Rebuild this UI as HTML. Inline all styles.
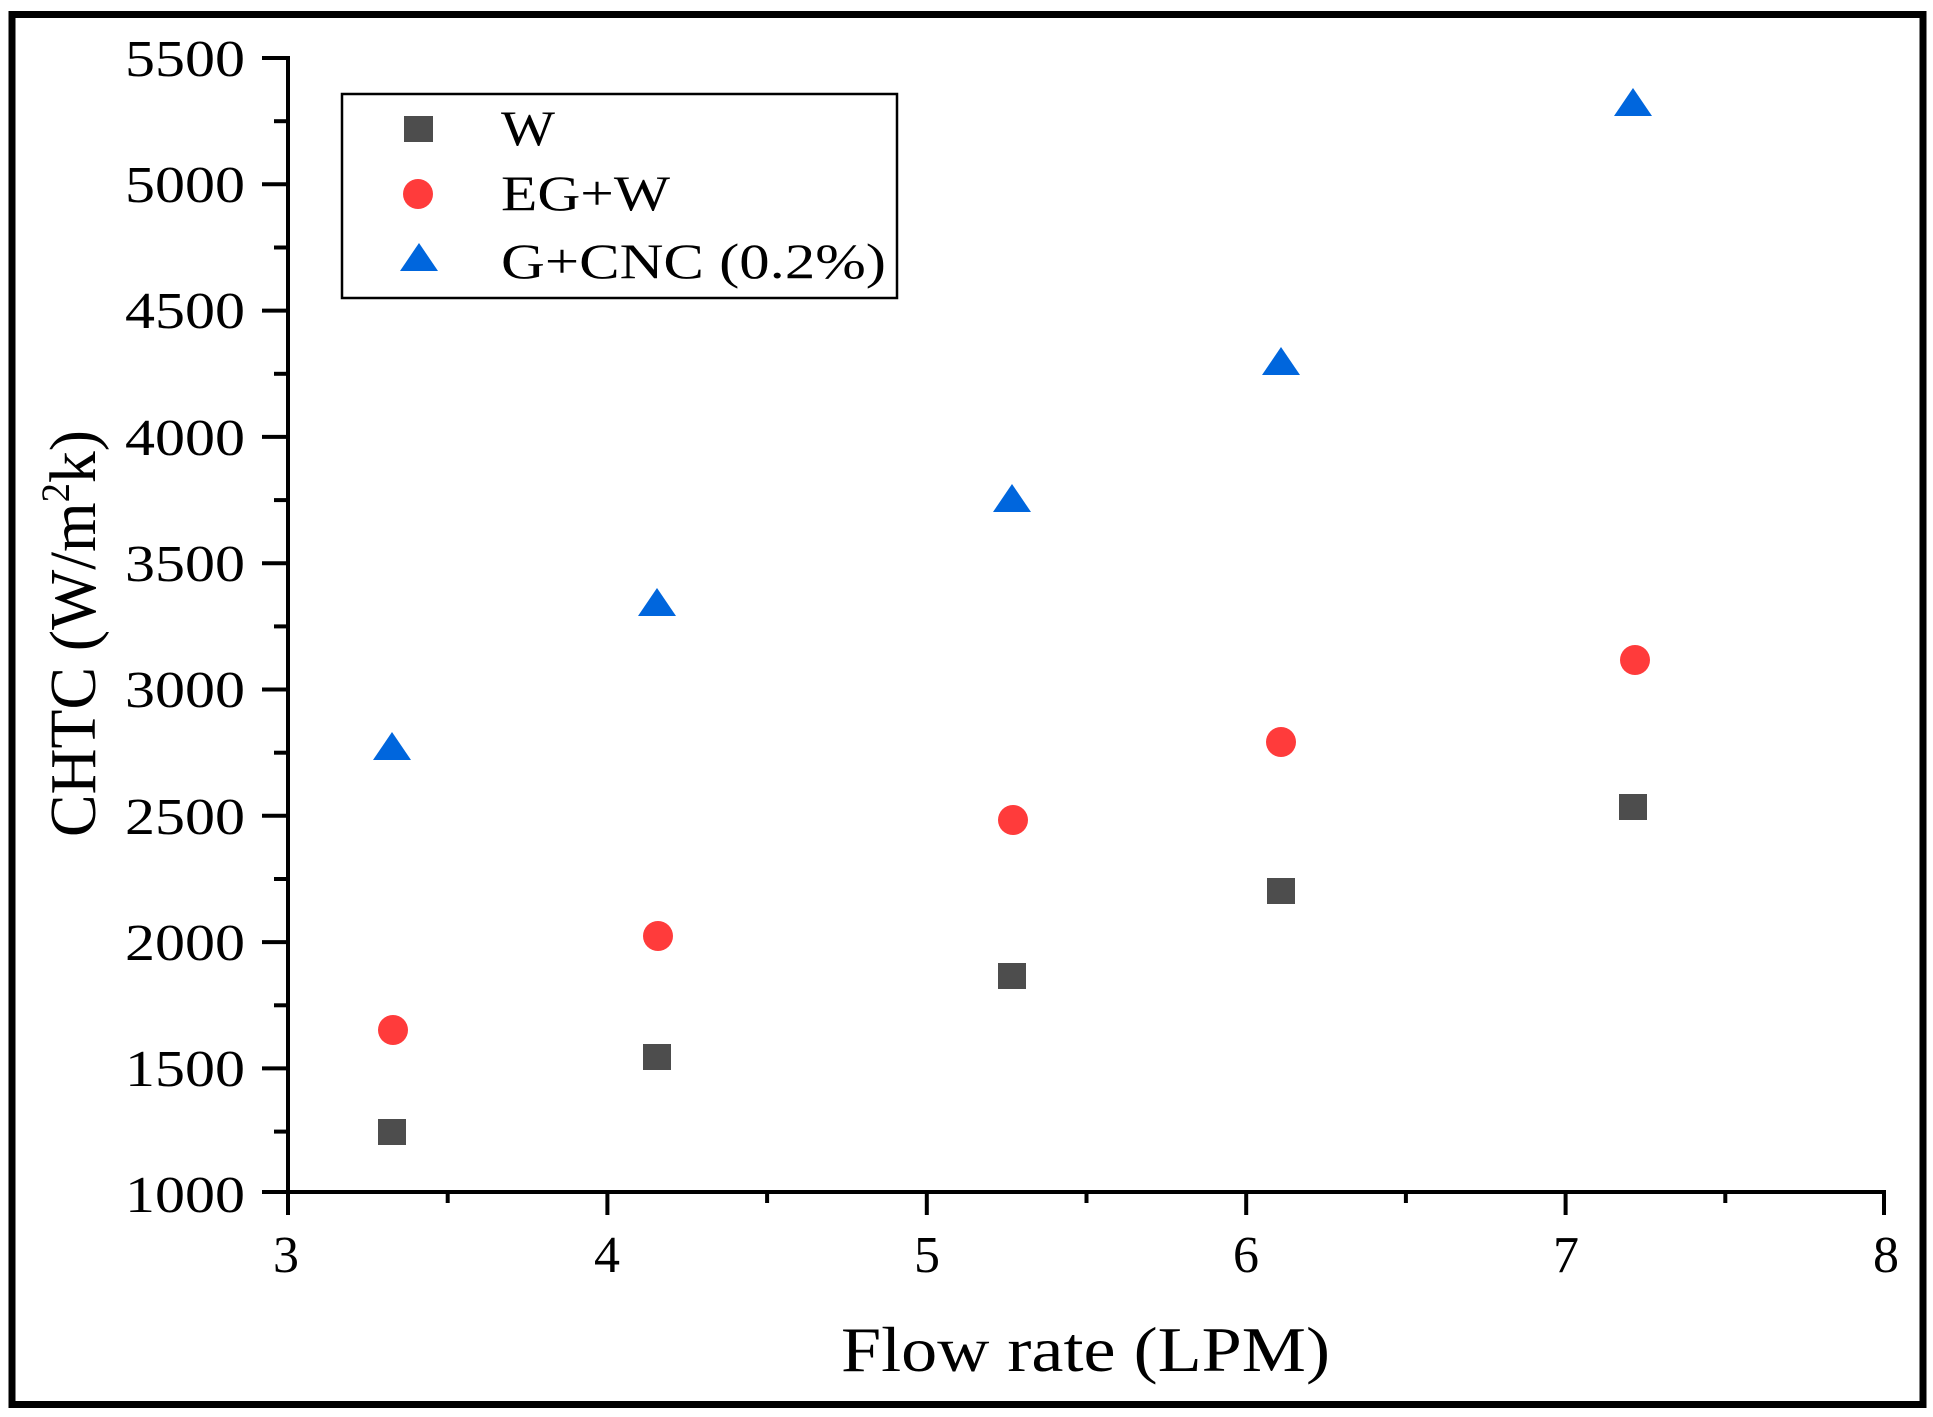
<!DOCTYPE html>
<html><head><meta charset="utf-8"><style>
html,body{margin:0;padding:0;background:#fff;}
svg{display:block;}
text{font-family:"Liberation Serif",serif;fill:#000;}
</style></head><body>
<svg width="1933" height="1417" viewBox="0 0 1933 1417" xmlns="http://www.w3.org/2000/svg">
<rect x="0" y="0" width="1933" height="1417" fill="#fff"/>
<rect x="12" y="14.5" width="1911" height="1390" fill="none" stroke="#000" stroke-width="7"/>
<g stroke="#000" stroke-width="4" fill="none">
<line x1="288" y1="56" x2="288" y2="1215"/>
<line x1="262" y1="1192" x2="1884" y2="1192"/>
<line x1="262" y1="58" x2="288" y2="58"/>
<line x1="262" y1="184.3" x2="288" y2="184.3"/>
<line x1="262" y1="310.6" x2="288" y2="310.6"/>
<line x1="262" y1="436.9" x2="288" y2="436.9"/>
<line x1="262" y1="563.2" x2="288" y2="563.2"/>
<line x1="262" y1="689.5" x2="288" y2="689.5"/>
<line x1="262" y1="815.8" x2="288" y2="815.8"/>
<line x1="262" y1="942.1" x2="288" y2="942.1"/>
<line x1="262" y1="1068.4" x2="288" y2="1068.4"/>
<line x1="274" y1="121.2" x2="288" y2="121.2"/>
<line x1="274" y1="247.5" x2="288" y2="247.5"/>
<line x1="274" y1="373.8" x2="288" y2="373.8"/>
<line x1="274" y1="500.1" x2="288" y2="500.1"/>
<line x1="274" y1="626.4" x2="288" y2="626.4"/>
<line x1="274" y1="752.7" x2="288" y2="752.7"/>
<line x1="274" y1="879" x2="288" y2="879"/>
<line x1="274" y1="1005.3" x2="288" y2="1005.3"/>
<line x1="274" y1="1131.6" x2="288" y2="1131.6"/>
<line x1="607.4" y1="1192" x2="607.4" y2="1215"/>
<line x1="926.8" y1="1192" x2="926.8" y2="1215"/>
<line x1="1246.2" y1="1192" x2="1246.2" y2="1215"/>
<line x1="1565.6" y1="1192" x2="1565.6" y2="1215"/>
<line x1="1884" y1="1190" x2="1884" y2="1215"/>
<line x1="447.7" y1="1192" x2="447.7" y2="1203"/>
<line x1="767.1" y1="1192" x2="767.1" y2="1203"/>
<line x1="1086.5" y1="1192" x2="1086.5" y2="1203"/>
<line x1="1405.9" y1="1192" x2="1405.9" y2="1203"/>
<line x1="1725.3" y1="1192" x2="1725.3" y2="1203"/>
</g>
<g font-size="52" text-anchor="end">
<text x="245" y="76" textLength="120" lengthAdjust="spacingAndGlyphs">5500</text>
<text x="245" y="202" textLength="120" lengthAdjust="spacingAndGlyphs">5000</text>
<text x="245" y="328" textLength="120" lengthAdjust="spacingAndGlyphs">4500</text>
<text x="245" y="455" textLength="120" lengthAdjust="spacingAndGlyphs">4000</text>
<text x="245" y="581" textLength="120" lengthAdjust="spacingAndGlyphs">3500</text>
<text x="245" y="707" textLength="120" lengthAdjust="spacingAndGlyphs">3000</text>
<text x="245" y="834" textLength="120" lengthAdjust="spacingAndGlyphs">2500</text>
<text x="245" y="960" textLength="120" lengthAdjust="spacingAndGlyphs">2000</text>
<text x="245" y="1086" textLength="120" lengthAdjust="spacingAndGlyphs">1500</text>
<text x="245" y="1212" textLength="120" lengthAdjust="spacingAndGlyphs">1000</text>
</g>
<g font-size="52" text-anchor="middle">
<text x="286" y="1272">3</text>
<text x="607" y="1272">4</text>
<text x="927" y="1272">5</text>
<text x="1246" y="1272">6</text>
<text x="1566" y="1272">7</text>
<text x="1886" y="1272">8</text>
</g>
<text x="841" y="1371" font-size="64" textLength="489" lengthAdjust="spacingAndGlyphs">Flow rate (LPM)</text>
<text transform="translate(95,837) rotate(-90)" font-size="66" textLength="407" lengthAdjust="spacingAndGlyphs">CHTC (W/m<tspan font-size="40" dy="-26">2</tspan><tspan dy="26">k)</tspan></text>
<rect x="342" y="94" width="555" height="204" fill="none" stroke="#000" stroke-width="2.5"/>
<rect x="404" y="116" width="29" height="26" fill="#4d4d4d"/>
<circle cx="418" cy="194" r="15" fill="#ff3b3b"/>
<polygon points="400,271 438,271 419,243" fill="#0066dd"/>
<g font-size="50">
<text x="501" y="145" textLength="54" lengthAdjust="spacingAndGlyphs">W</text>
<text x="501" y="210" textLength="169" lengthAdjust="spacingAndGlyphs">EG+W</text>
<text x="501" y="278" textLength="385" lengthAdjust="spacingAndGlyphs">G+CNC (0.2%)</text>
</g>
<g fill="#4d4d4d">
<rect x="378" y="1119" width="28" height="26"/>
<rect x="643" y="1044" width="28" height="26"/>
<rect x="998" y="963" width="28" height="26"/>
<rect x="1267" y="878" width="28" height="26"/>
<rect x="1619" y="794" width="28" height="26"/>
</g>
<g fill="#ff3b3b">
<circle cx="393" cy="1030" r="15"/>
<circle cx="658" cy="936" r="15"/>
<circle cx="1013" cy="820" r="15"/>
<circle cx="1281" cy="742" r="15"/>
<circle cx="1635" cy="660" r="15"/>
</g>
<g fill="#0066dd">
<polygon points="373,760 411,760 392,732"/>
<polygon points="638,616 676,616 657,588"/>
<polygon points="993,512 1031,512 1012,484"/>
<polygon points="1262,375 1300,375 1281,347"/>
<polygon points="1614,116 1652,116 1633,88"/>
</g>
</svg>
</body></html>
